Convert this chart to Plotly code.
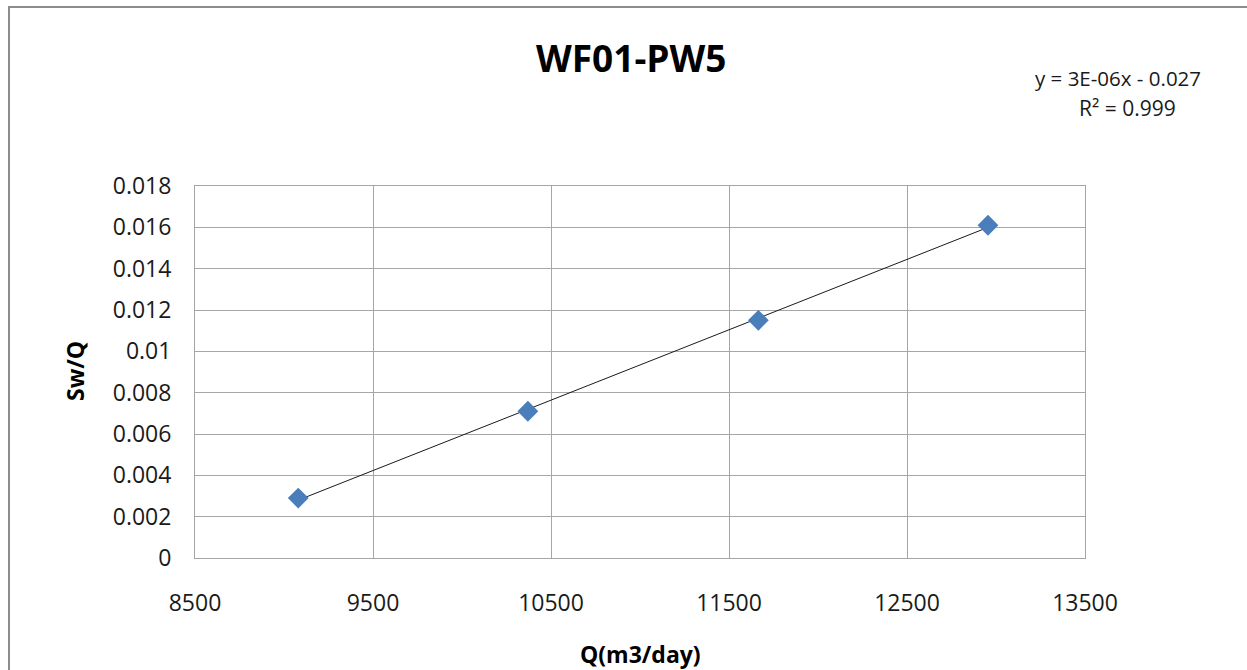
import numpy as np
import plotly.graph_objects as go

# Discharge Q (m3/day) and specific drawdown Sw/Q for well WF01-PW5
q_values = [9080, 10370, 11665, 12955]
sw_q_values = [0.0029, 0.0071, 0.0115, 0.0161]

x_ticks = [8500, 9500, 10500, 11500, 12500, 13500]
y_ticks = [0, 0.002, 0.004, 0.006, 0.008, 0.01, 0.012, 0.014, 0.016, 0.018]
y_tick_labels = ["0", "0.002", "0.004", "0.006", "0.008", "0.01", "0.012", "0.014", "0.016", "0.018"]

# Least-squares linear trend through the measured points
slope, intercept = np.polyfit(q_values, sw_q_values, 1)
trend_x = [min(q_values), max(q_values)]
trend_y = [slope * v + intercept for v in trend_x]

FONT = "Open Sans, sans-serif"
GRID = "#a6a6a6"
TEXT = "#1a1a1a"

# plot area in pixels: left 195, right 1085, top 186, bottom 558
L, R, T, B = 195, 1085, 186, 558
W, H = 1247, 670


def px(x):
    return (x - L) / (R - L)


def py(y):
    return (B - y) / (B - T)


fig = go.Figure()
fig.add_trace(go.Scatter(
    x=trend_x, y=trend_y, mode="lines",
    line=dict(color="#1a1a1a", width=1), hoverinfo="skip", showlegend=False,
))
fig.add_trace(go.Scatter(
    x=q_values, y=sw_q_values, mode="markers",
    marker=dict(symbol="diamond", size=16, color="#4a7ebb"),
    showlegend=False,
))

fig.update_layout(
    width=W, height=H,
    margin=dict(l=L, r=W - R, t=T, b=H - B),
    paper_bgcolor="white", plot_bgcolor="white",
    font=dict(family=FONT, color=TEXT),
    xaxis=dict(
        range=[8500, 13500], tickvals=x_ticks, ticktext=[str(v) for v in x_ticks],
        showgrid=True, gridcolor=GRID, gridwidth=1,
        showline=True, linecolor=GRID, linewidth=1, mirror=True,
        ticks="", ticklabelstandoff=24, zeroline=False,
        tickfont=dict(size=23, family=FONT, color=TEXT),
    ),
    yaxis=dict(
        range=[0, 0.018], tickvals=y_ticks, ticktext=y_tick_labels,
        showgrid=True, gridcolor=GRID, gridwidth=1,
        showline=True, linecolor=GRID, linewidth=1, mirror=True,
        ticks="", ticklabelstandoff=18, zeroline=False,
        tickfont=dict(size=23, family=FONT, color=TEXT),
    ),
    shapes=[dict(
        type="rect", xref="paper", yref="paper",
        x0=px(9), x1=px(W + 20), y0=py(H + 20), y1=py(7),
        line=dict(color="#8c8c8c", width=2), fillcolor="rgba(0,0,0,0)", layer="below",
    )],
    annotations=[
        dict(xref="paper", yref="paper", x=px(631), y=py(57), xanchor="center", yanchor="middle",
             showarrow=False, text="<b>WF01-PW5</b>", font=dict(size=37, family=FONT, color="#000000")),
        dict(xref="paper", yref="paper", x=px(640), y=py(654), xanchor="center", yanchor="middle",
             showarrow=False, text="<b>Q(m3/day)</b>", font=dict(size=23, family=FONT, color="#000000")),
        dict(xref="paper", yref="paper", x=px(75), y=py(371), xanchor="center", yanchor="middle",
             showarrow=False, textangle=-90, text="<b>Sw/Q</b>",
             font=dict(size=23, family=FONT, color="#000000")),
        dict(xref="paper", yref="paper", x=px(1118), y=py(78), xanchor="center", yanchor="middle",
             showarrow=False, text="y = 3E-06x - 0.027", font=dict(size=20.5, family=FONT, color=TEXT)),
        dict(xref="paper", yref="paper", x=px(1127), y=py(108), xanchor="center", yanchor="middle",
             showarrow=False, text="R² = 0.999", font=dict(size=21, family=FONT, color=TEXT)),
    ],
)

fig.write_html("out.html")
